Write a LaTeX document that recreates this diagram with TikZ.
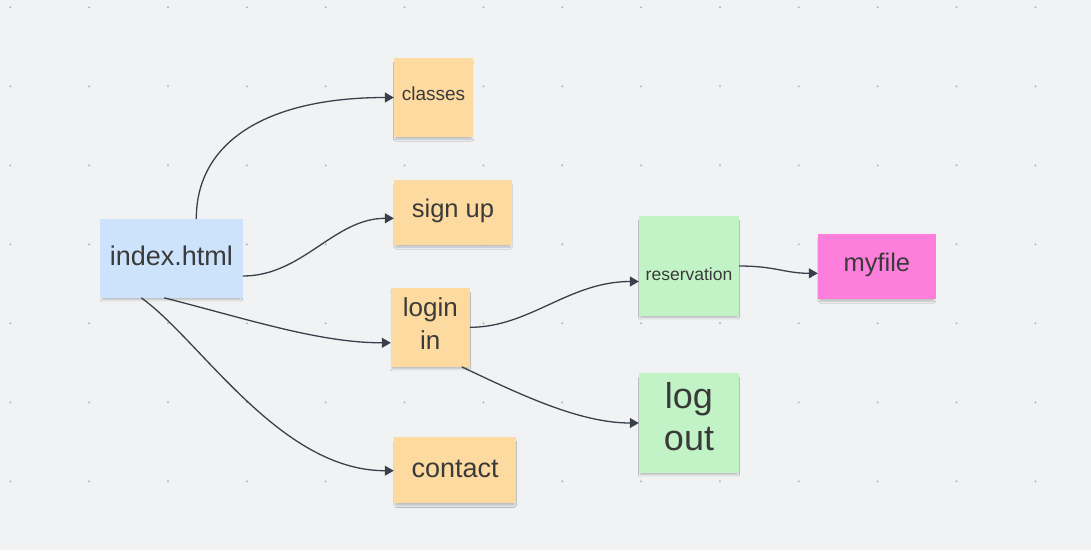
\documentclass[tikz,border=0pt]{standalone}
\usepackage{fontspec}
\setmainfont{Liberation Sans}
\usetikzlibrary{arrows.meta,shadows.blur}
\definecolor{bgc}{HTML}{F1F2F4}
\definecolor{dotc}{HTML}{B2B6BC}
\definecolor{orangenote}{HTML}{FDDA9F}
\definecolor{bluenote}{HTML}{CDE3FC}
\definecolor{greennote}{HTML}{C2F3C6}
\definecolor{pinknote}{HTML}{FE7EDB}
\definecolor{txtc}{HTML}{3A3A3A}
\definecolor{linec}{HTML}{3A404B}
\newcommand{\mvtext}[2]{\raisebox{#1}[\height][\depth]{#2}}
\tikzset{
  note/.style={rectangle, inner sep=0pt, text=txtc, align=center,
    blur shadow={shadow xshift=0pt, shadow yshift=-3.5pt, shadow blur radius=2pt, shadow opacity=22, shadow scale=0.97}},
  conn/.style={draw=linec, line width=1.3pt, -{Triangle[length=9pt,width=10pt]}},
  fs/.style={font=\fontsize{#1}{#1}\selectfont}
}
\begin{document}
\begin{tikzpicture}[x=1pt,y=-1pt]
\fill[bgc] (0,0) rectangle (1091,550);
\useasboundingbox (0,0) rectangle (1091,550);
\foreach \i in {0,...,13}{
  \foreach \j in {0,...,6}{
    \fill[dotc] (10.3+78.85*\i, 7.3+79*\j) circle (1.1pt);
  }
}
% notes
\node[note, fill=bluenote, minimum width=142.7pt, minimum height=78.7pt, fs=27] (index) at (171.3,258.3) {\mvtext{2pt}{index.html}};
\node[note, fill=orangenote, minimum width=79pt, minimum height=79pt, fs=19] (classes) at (433.5,97.5) {\mvtext{3.5pt}{classes}};
\node[note, fill=orangenote, minimum width=118pt, minimum height=64.7pt, fs=25.5] (signup) at (453,212.3) {\mvtext{1pt}{sign up}};
\node[note, fill=orangenote, minimum width=78.6pt, minimum height=78.7pt, font=\fontsize{26}{33}\selectfont] (login) at (430.3,327.3) {\mvtext{4pt}{login}\\\mvtext{4pt}{in}};
\node[note, fill=orangenote, minimum width=122.5pt, minimum height=66pt, fs=27] (contact) at (455.2,470) {\mvtext{1.5pt}{contact}};
\node[note, fill=greennote, minimum width=100pt, minimum height=100pt, fs=17.5] (reservation) at (689,266) {\mvtext{-8pt}{reservation}};
\node[note, fill=greennote, minimum width=100pt, minimum height=100pt, font=\fontsize{36}{42}\selectfont] (logout) at (689,423) {\mvtext{6pt}{log}\\\mvtext{6pt}{out}};
\node[note, fill=pinknote, minimum width=117.6pt, minimum height=64.7pt, fs=25.5] (myfile) at (876.8,266.3) {\mvtext{1.5pt}{myfile}};
% connectors
\draw[conn] ([xshift=25pt]index.north) .. controls +(0,-79) and +(-124,0) .. (classes.west);
\draw[conn] ([yshift=-17.7pt]index.east) .. controls +(60,0) and +(-60,0) .. ([yshift=-6pt]signup.west);
\draw[conn] ([xshift=-7pt]index.south) .. controls +(86,22) and +(-71,0) .. ([yshift=-15.5pt]login.west);
\draw[conn] ([xshift=-30pt]index.south) .. controls +(59,42) and +(-114,0) .. ([yshift=-0.7pt]contact.west);
\draw[conn] (login.east) .. controls +(60,0) and +(-70,0) .. ([yshift=-15.5pt]reservation.west);
\draw[conn] ([xshift=-8pt]login.south east) .. controls +(59,28) and +(-59,0) .. (logout.west);
\draw[conn] (reservation.east) .. controls +(36,0) and +(-33,0) .. ([yshift=-7pt]myfile.west);
\end{tikzpicture}
\end{document}
